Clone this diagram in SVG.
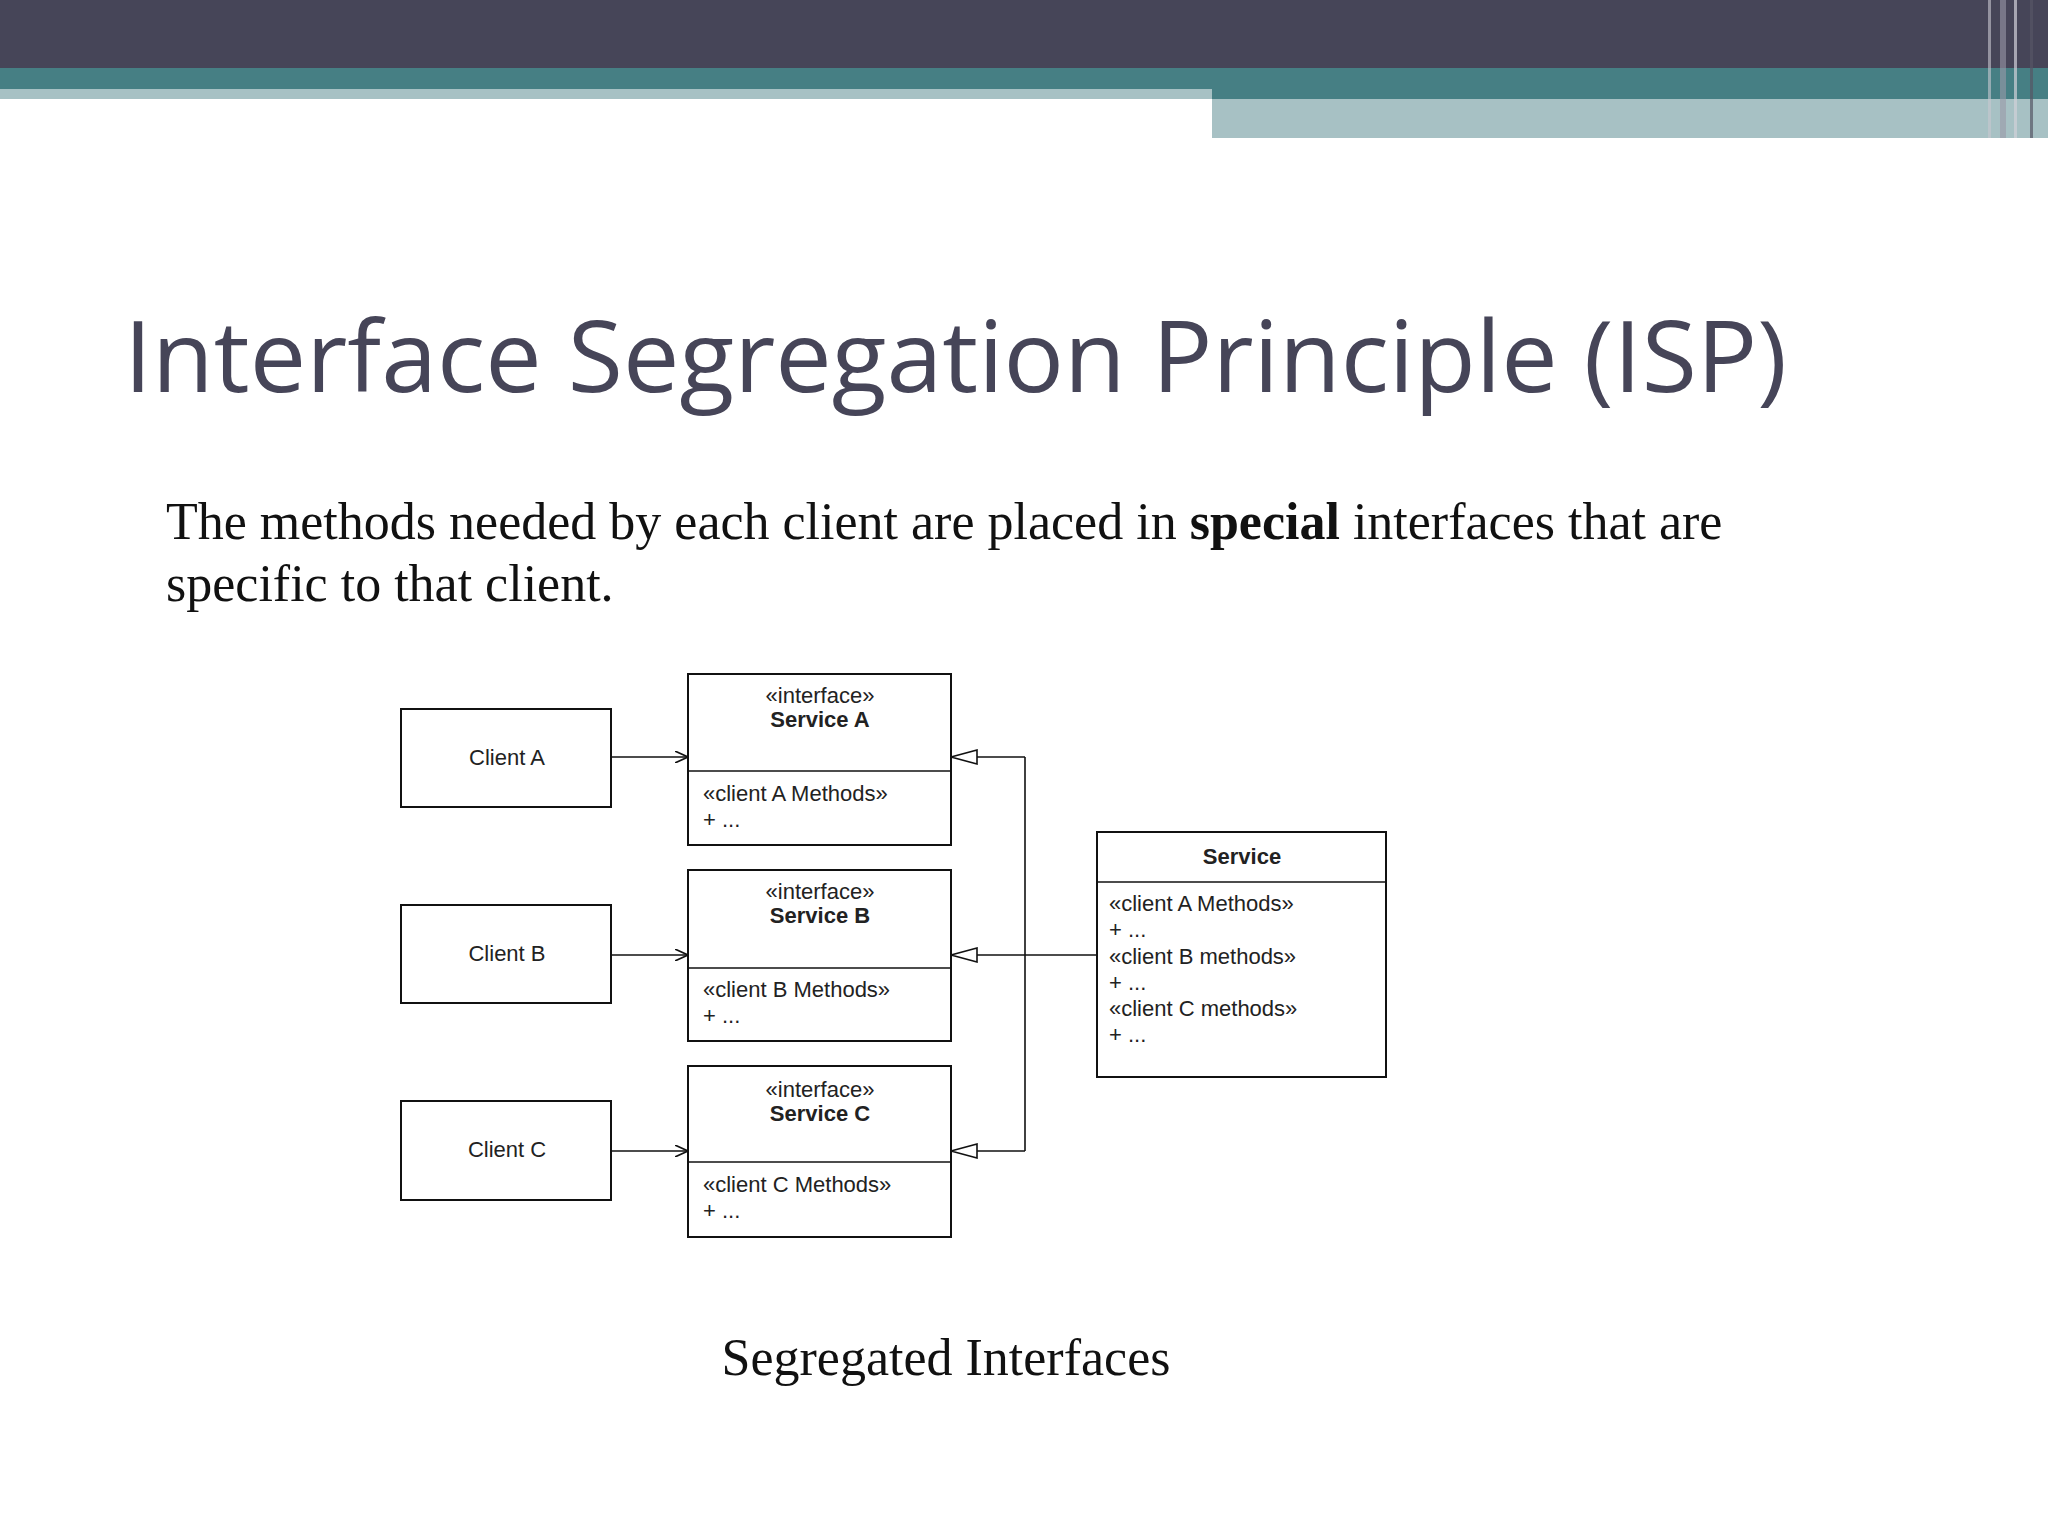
<svg xmlns="http://www.w3.org/2000/svg" width="2048" height="1536" viewBox="0 0 2048 1536">
<style>
.b{fill:#fff;stroke:#111;stroke-width:2}
.l{stroke:#111;stroke-width:1.6;fill:none}
.t{font-family:"Liberation Sans",Arial,sans-serif;font-size:22px;fill:#222}
.c{text-anchor:middle}
.bd{font-weight:bold}
</style>
<defs>
<marker id="open" markerWidth="14" markerHeight="12" refX="13" refY="6" orient="auto" markerUnits="userSpaceOnUse"><path d="M0,0 L13,6 L0,12" fill="none" stroke="#111" stroke-width="1.6"/></marker>
<marker id="tri" markerWidth="30" markerHeight="16" refX="27" refY="8" orient="auto" markerUnits="userSpaceOnUse"><path d="M1,1 L27,8 L1,15 Z" fill="#fff" stroke="#111" stroke-width="1.6"/></marker>
</defs>
<rect width="2048" height="1536" fill="#fff"/>
<rect x="0" y="0" width="2048" height="68" fill="#464558"/>
<rect x="0" y="68" width="2048" height="31" fill="#467f84"/>
<rect x="0" y="89" width="1212" height="10" fill="#a7c1c4"/>
<rect x="1212" y="99" width="836" height="39" fill="#a7c1c4"/>
<rect x="1988" y="0" width="3" height="138" fill="#c8c8d0" opacity="0.6"/>
<rect x="2000" y="0" width="6" height="138" fill="#9a9aa8" opacity="0.6"/>
<rect x="2014" y="0" width="3" height="138" fill="#d0d0d8" opacity="0.7"/>
<rect x="2030" y="0" width="3" height="138" fill="#555565" opacity="0.7"/>
<text x="124" y="392" font-family="'Open Sans','DejaVu Sans',sans-serif" font-size="98" fill="#464558" textLength="1663" lengthAdjust="spacingAndGlyphs">Interface Segregation Principle (ISP)</text>
<text font-family="'Liberation Serif','Times New Roman',serif" font-size="52" fill="#111"><tspan x="166" y="539">The methods needed by each client are placed in <tspan font-weight="bold">special</tspan> interfaces that are</tspan><tspan x="166" y="601">specific to that client.</tspan></text>
<text x="946" y="1375" text-anchor="middle" font-family="'Liberation Serif','Times New Roman',serif" font-size="52" fill="#111">Segregated Interfaces</text>
<g id="connectors">
<line class="l" x1="611" y1="757" x2="688" y2="757" marker-end="url(#open)"/>
<line class="l" x1="611" y1="955" x2="688" y2="955" marker-end="url(#open)"/>
<line class="l" x1="611" y1="1151" x2="688" y2="1151" marker-end="url(#open)"/>
<line class="l" x1="1025" y1="757" x2="951" y2="757" marker-end="url(#tri)"/>
<line class="l" x1="1025" y1="955" x2="951" y2="955" marker-end="url(#tri)"/>
<line class="l" x1="1025" y1="1151" x2="951" y2="1151" marker-end="url(#tri)"/>
<line class="l" x1="1025" y1="757" x2="1025" y2="1151"/>
<line class="l" x1="1025" y1="955" x2="1097" y2="955"/>
</g>
<g id="clientA"><rect class="b" x="401" y="709" width="210" height="98"/><text class="t c" x="507" y="765">Client A</text></g>
<g id="clientB"><rect class="b" x="401" y="905" width="210" height="98"/><text class="t c" x="507" y="961">Client B</text></g>
<g id="clientC"><rect class="b" x="401" y="1101" width="210" height="99"/><text class="t c" x="507" y="1157">Client C</text></g>
<g id="serviceA"><rect class="b" x="688" y="674" width="263" height="171"/><line class="l" x1="688" y1="771" x2="951" y2="771"/>
<text class="t c" x="820" y="703">«interface»</text><text class="t c bd" x="820" y="727">Service A</text>
<text class="t" x="703" y="801">«client A Methods»</text><text class="t" x="703" y="827">+ ...</text></g>
<g id="serviceB"><rect class="b" x="688" y="870" width="263" height="171"/><line class="l" x1="688" y1="968" x2="951" y2="968"/>
<text class="t c" x="820" y="899">«interface»</text><text class="t c bd" x="820" y="923">Service B</text>
<text class="t" x="703" y="997">«client B Methods»</text><text class="t" x="703" y="1023">+ ...</text></g>
<g id="serviceC"><rect class="b" x="688" y="1066" width="263" height="171"/><line class="l" x1="688" y1="1162" x2="951" y2="1162"/>
<text class="t c" x="820" y="1097">«interface»</text><text class="t c bd" x="820" y="1121">Service C</text>
<text class="t" x="703" y="1192">«client C Methods»</text><text class="t" x="703" y="1218">+ ...</text></g>
<g id="service"><rect class="b" x="1097" y="832" width="289" height="245"/><line class="l" x1="1097" y1="882" x2="1386" y2="882"/>
<text class="t c bd" x="1242" y="864">Service</text>
<text class="t" x="1109" y="911">«client A Methods»</text><text class="t" x="1109" y="937">+ ...</text>
<text class="t" x="1109" y="964">«client B methods»</text><text class="t" x="1109" y="990">+ ...</text>
<text class="t" x="1109" y="1016">«client C methods»</text><text class="t" x="1109" y="1042">+ ...</text></g>
</svg>
